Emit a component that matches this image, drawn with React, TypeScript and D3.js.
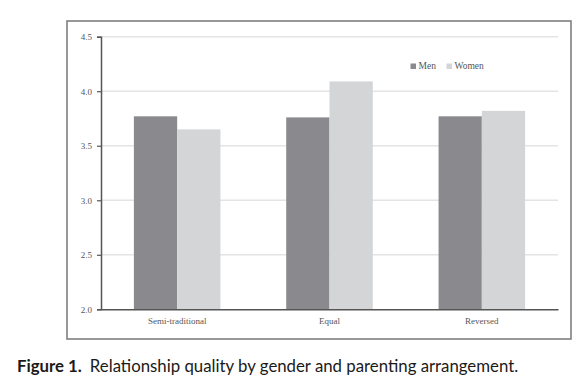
import { useEffect, useRef } from "react";
import * as d3 from "d3";

const CATEGORIES = ["Semi-traditional", "Equal", "Reversed"];
const SERIES = ["Men", "Women"];
const MEN = [3.77, 3.76, 3.77];
const WOMEN = [3.65, 4.09, 3.82];
const Y_TICKS = [2.0, 2.5, 3.0, 3.5, 4.0, 4.5];

const COLORS = ["#8a8a8e", "#d4d5d7"];

const W = 588;
const H = 389;
const PLOT = { LEFT: 101, RIGHT: 558, TOP: 36.7, BOTTOM: 309.3 };

const App = () => {
  const ref = useRef<SVGSVGElement | null>(null);

  useEffect(() => {
    const svg = d3.select(ref.current);
    svg.selectAll("*").remove();

    const rows = CATEGORIES.map((c, i) => ({ cat: c, values: [MEN[i], WOMEN[i]] }));

    const x0 = d3.scaleBand<string>().domain(CATEGORIES).range([PLOT.LEFT, PLOT.RIGHT]).padding(0);
    const x1 = d3
      .scaleBand<string>()
      .domain(SERIES)
      .range([0, x0.bandwidth()])
      .paddingInner(0)
      .paddingOuter(0.76);
    const y = d3.scaleLinear().domain([2.0, 4.5]).range([PLOT.BOTTOM, PLOT.TOP]);

    // outer frame
    svg
      .append("rect")
      .attr("x", 67)
      .attr("y", 21)
      .attr("width", 504)
      .attr("height", 318)
      .attr("fill", "none")
      .attr("stroke", "#777")
      .attr("stroke-width", 1.5);

    // gridlines
    svg
      .append("g")
      .selectAll("line")
      .data(Y_TICKS.slice(1))
      .join("line")
      .attr("x1", PLOT.LEFT)
      .attr("x2", PLOT.RIGHT)
      .attr("y1", (d) => y(d))
      .attr("y2", (d) => y(d))
      .attr("stroke", "#e4e4e4")
      .attr("stroke-width", 1.5);

    // bars
    svg
      .append("g")
      .selectAll("g")
      .data(rows)
      .join("g")
      .attr("transform", (d) => `translate(${x0(d.cat)},0)`)
      .selectAll("rect")
      .data((d) => d.values.map((v, i) => ({ key: SERIES[i], v, i })))
      .join("rect")
      .attr("x", (d) => x1(d.key)!)
      .attr("width", x1.bandwidth())
      .attr("y", (d) => y(d.v))
      .attr("height", (d) => y(2.0) - y(d.v))
      .attr("fill", (d) => COLORS[d.i]);

    // y axis
    const yAxis = d3
      .axisLeft(y)
      .tickValues(Y_TICKS)
      .tickFormat(d3.format(".1f"))
      .tickSize(4)
      .tickPadding(5);
    const gy = svg.append("g").attr("transform", `translate(${PLOT.LEFT},0)`).call(yAxis as any);
    gy.select(".domain").attr("stroke", "#555").attr("stroke-width", 1.5);
    gy.selectAll(".tick line").attr("stroke", "#555").attr("stroke-width", 1.2);
    gy.selectAll(".tick text")
      .attr("fill", "#555")
      .style("font-family", "'Liberation Serif', 'Times New Roman', serif")
      .style("font-size", "9px");

    // x axis
    const xAxis = d3.axisBottom(x0).tickSize(0).tickPadding(8);
    const gx = svg.append("g").attr("transform", `translate(0,${PLOT.BOTTOM})`).call(xAxis as any);
    gx.select(".domain").attr("stroke", "#555").attr("stroke-width", 1.5);
    gx.selectAll(".tick text")
      .attr("fill", "#555")
      .style("font-family", "'Liberation Serif', 'Times New Roman', serif")
      .style("font-size", "9px");

    // legend
    const legend = svg.append("g").attr("transform", "translate(410.5,63)");
    const items = legend
      .selectAll("g")
      .data(SERIES)
      .join("g")
      .attr("transform", (_, i) => `translate(${i * 36},0)`);
    items
      .append("rect")
      .attr("width", 5.5)
      .attr("height", 5.5)
      .attr("y", 0.5)
      .attr("fill", (_, i) => COLORS[i]);
    items
      .append("text")
      .attr("x", 8)
      .attr("y", 6)
      .attr("fill", "#555")
      .style("font-family", "'Liberation Serif', 'Times New Roman', serif")
      .style("font-size", "9.5px")
      .text((d) => d);

    // caption
    const cap = svg
      .append("text")
      .attr("x", 17)
      .attr("y", 371.5)
      .attr("fill", "#1a1a1a")
      .style("font-family", "Lato, 'Noto Sans', sans-serif")
      .style("font-size", "16.8px");
    cap.append("tspan").attr("font-weight", "bold").text("Figure 1.");
    cap.append("tspan").attr("dx", 8).text("Relationship quality by gender and parenting arrangement.");
  }, []);

  return (
    <svg
      ref={ref}
      width={W}
      height={H}
      style={{ position: "absolute", left: 0, top: 0, background: "#fff" }}
    />
  );
};

export default App;
